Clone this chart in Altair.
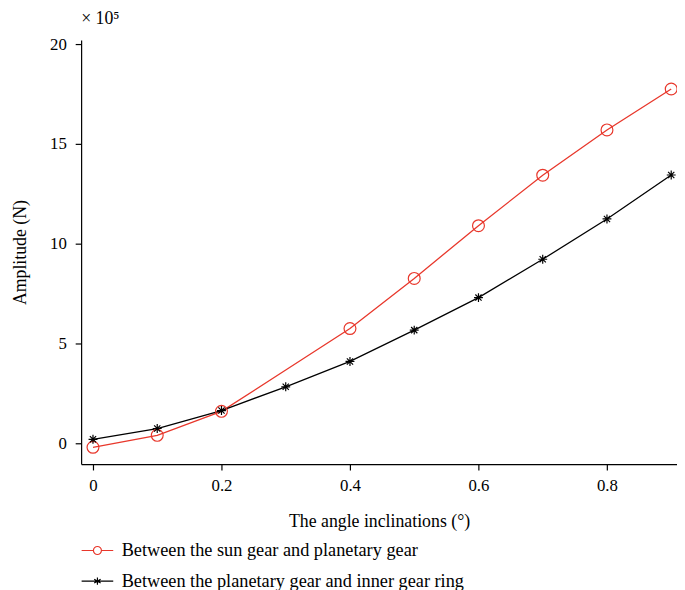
import altair as alt
import pandas as pd

# ---- data (amplitude in units of 1e5 N) ----
angles = [0.0, 0.1, 0.2, 0.3, 0.4, 0.5, 0.6, 0.7, 0.8, 0.9]
sun_planet = [-0.2, 0.4, 1.6, 3.67, 5.75, 8.26, 10.9, 13.43, 15.7, 17.75]
sun_planet_marker = [True, True, True, False, True, True, True, True, True, True]
planet_ring = [0.2, 0.74, 1.64, 2.83, 4.1, 5.67, 7.3, 9.22, 11.24, 13.44]
planet_ring_marker = [True] * 10

series_names = [
    "Between the sun gear and planetary gear",
    "Between the planetary gear and inner gear ring",
]
series_colors = ["#e8372b", "#000000"]
x_ticks = [0, 0.2, 0.4, 0.6, 0.8]
y_ticks = [0, 5, 10, 15, 20]

rows = []
for a, v, m in zip(angles, sun_planet, sun_planet_marker):
    rows.append({"angle": a, "amp": v, "marker": m, "series": series_names[0]})
for a, v, m in zip(angles, planet_ring, planet_ring_marker):
    rows.append({"angle": a, "amp": v, "marker": m, "series": series_names[1]})
df = pd.DataFrame(rows)

FONT = "Liberation Serif"

ASTERISK = "M-1,0L1,0M0,-1L0,1M-0.7,-0.7L0.7,0.7M-0.7,0.7L0.7,-0.7"
LEG_CIRCLE = ("M-1.185,0L-0.3,0M0.3,0L1.185,0"
              "M-0.3,0A0.3,0.3,0,1,1,0.3,0A0.3,0.3,0,1,1,-0.3,0")
LEG_STAR = ("M-1.185,0L1.185,0M0,-0.28L0,0.28"
            "M-0.24,-0.14L0.24,0.14M-0.24,0.14L0.24,-0.14")

x_enc = alt.X(
    "angle:Q",
    scale=alt.Scale(domain=[-0.01846, 0.909], nice=False, zero=False),
    axis=alt.Axis(
        values=x_ticks,
        title="The angle inclinations (°)",
        grid=False,
        tickSize=6,
        labelPadding=8,
        titlePadding=19,
        format="~g",
    ),
)
y_enc = alt.Y(
    "amp:Q",
    scale=alt.Scale(domain=[-1.04, 20.2], nice=False, zero=False),
    axis=alt.Axis(
        values=y_ticks,
        title="Amplitude (N)",
        grid=False,
        tickSize=6,
        labelPadding=9,
        titlePadding=20,
    ),
)

color_scale = alt.Scale(domain=series_names, range=series_colors)

lines = alt.Chart(df).mark_line(strokeWidth=1.3, clip=False).encode(
    x=x_enc,
    y=y_enc,
    color=alt.Color("series:N", scale=color_scale, legend=None),
    detail="series:N",
)

points = alt.Chart(df).transform_filter("datum.marker").mark_point(
    filled=False, strokeWidth=1.2, opacity=1
).encode(
    x=x_enc,
    y=y_enc,
    color=alt.Color("series:N", scale=color_scale, legend=None),
    shape=alt.Shape("series:N", scale=alt.Scale(domain=series_names, range=["circle", ASTERISK]), legend=None),
    size=alt.Size("series:N", scale=alt.Scale(domain=series_names, range=[144, 81]), legend=None),
)

legend_layer = alt.Chart(df).transform_filter("false").mark_point(
    filled=False, strokeWidth=1.2, opacity=1
).encode(
    color=alt.Color(
        "series:N",
        scale=alt.Scale(domain=series_names, range=series_colors),
        legend=alt.Legend(title=None),
    ),
    shape=alt.Shape(
        "series:N",
        scale=alt.Scale(domain=series_names, range=[LEG_CIRCLE, LEG_STAR]),
        legend=alt.Legend(title=None),
    ),
)

chart = alt.layer(lines, points, legend_layer).resolve_scale(
    color="independent", shape="independent"
).properties(
    width=603,
    height=429,
    autosize=alt.AutoSizeParams(type="none"),
    padding={"left": 74, "top": 29, "right": 0, "bottom": 126},
    title=alt.Title("× 10⁵", anchor="start", frame="group"),
).configure_title(
    font=FONT,
    fontSize=18,
    fontWeight="normal",
    color="#000",
    offset=7,
    anchor="start",
).configure_view(stroke=None).configure_axis(
    domainColor="#000",
    domainWidth=1.2,
    tickColor="#000",
    tickWidth=1.2,
    labelFont=FONT,
    labelFontSize=17,
    labelColor="#000",
    titleFont=FONT,
    titleFontSize=18,
    titleFontWeight="normal",
    titleColor="#000",
).configure_legend(
    orient="none",
    legendX=2,
    legendY=502,
    padding=0,
    labelFont=FONT,
    labelFontSize=18.5,
    labelColor="#000",
    labelOffset=10,
    symbolSize=729,
    symbolStrokeWidth=1.2,
    rowPadding=7,
    labelLimit=0,
)

chart.save("out.html", embed_options={"renderer": "svg", "actions": False})
